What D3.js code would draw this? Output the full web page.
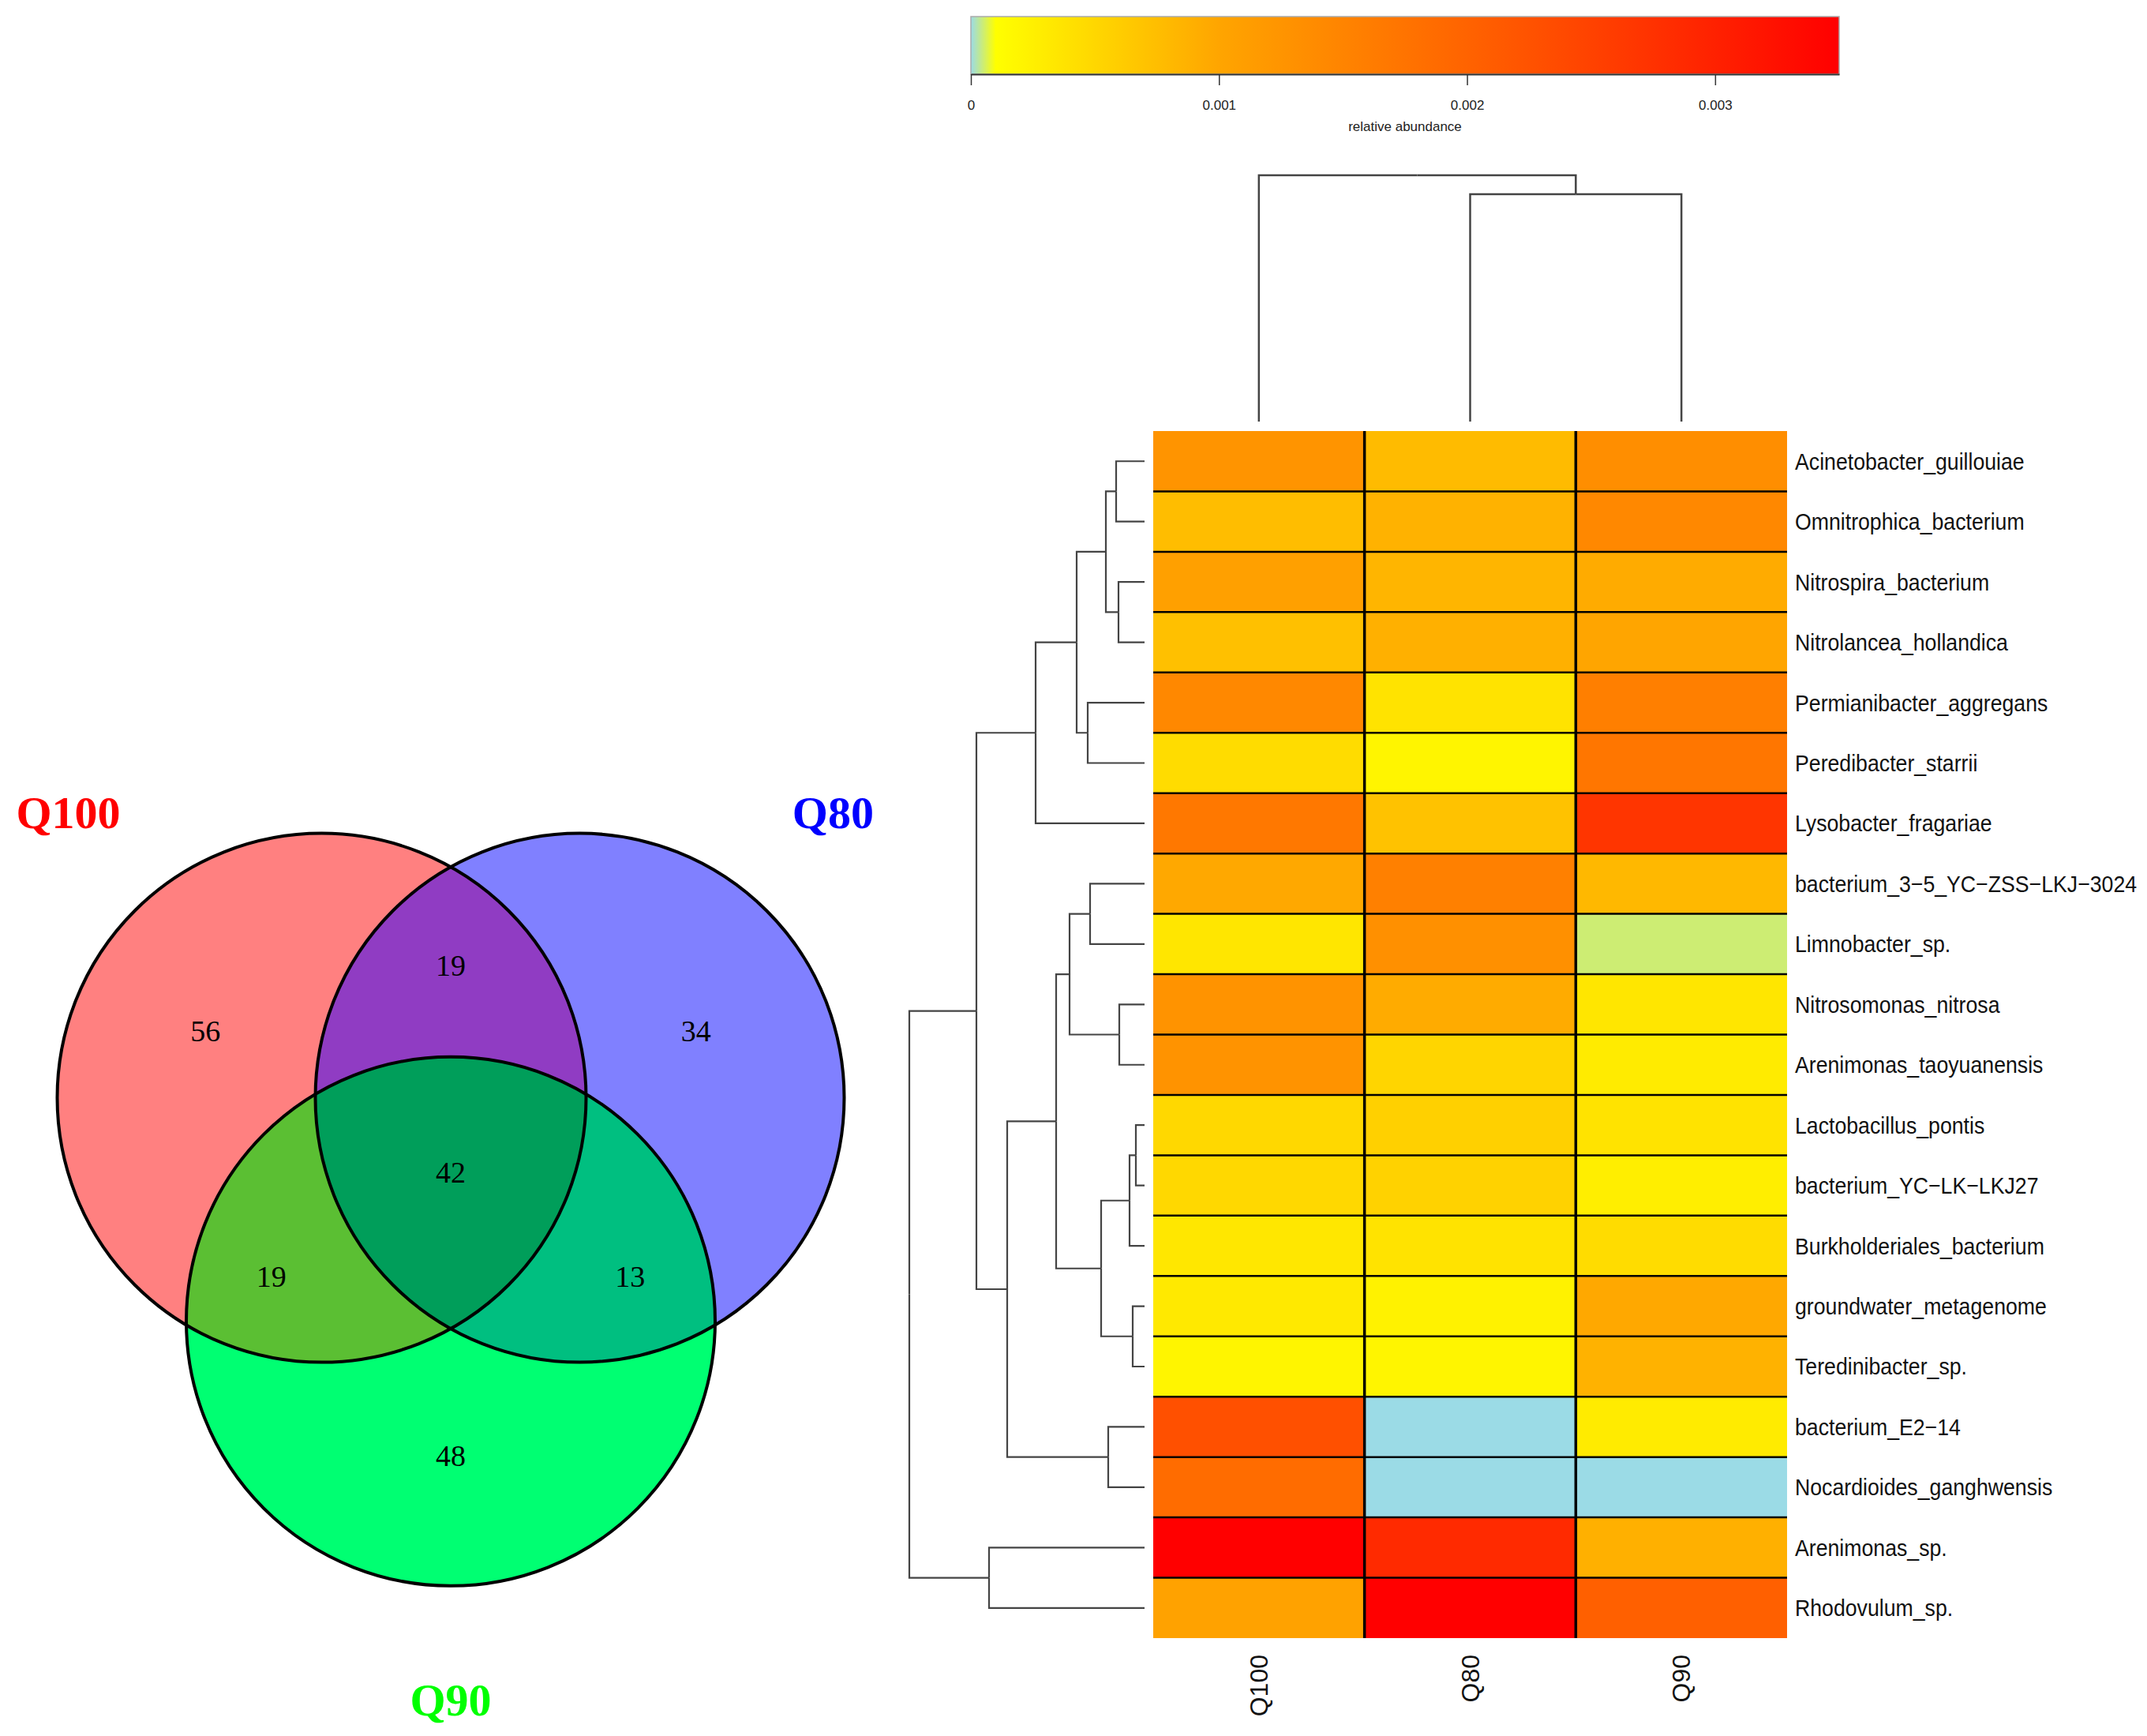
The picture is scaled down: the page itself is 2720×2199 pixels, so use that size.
<!DOCTYPE html>
<html>
<head>
<meta charset="utf-8">
<script src="https://cdn.jsdelivr.net/npm/d3@7"></script>
<style>
  body { margin: 0; background: #fff; }
</style>
</head>
<body>
<div id="chart"></div>
<script>
// ---- heatmap data ----
const samples = ["Q100", "Q80", "Q90"];
const taxa = [
  "Acinetobacter_guillouiae", "Omnitrophica_bacterium", "Nitrospira_bacterium",
  "Nitrolancea_hollandica", "Permianibacter_aggregans", "Peredibacter_starrii",
  "Lysobacter_fragariae", "bacterium_3-5_YC-ZSS-LKJ-3024", "Limnobacter_sp.",
  "Nitrosomonas_nitrosa", "Arenimonas_taoyuanensis", "Lactobacillus_pontis",
  "bacterium_YC-LK-LKJ27", "Burkholderiales_bacterium", "groundwater_metagenome",
  "Teredinibacter_sp.", "bacterium_E2-14", "Nocardioides_ganghwensis",
  "Arenimonas_sp.", "Rhodovulum_sp."
];
const q100 = [0.00126, 0.00076, 0.00108, 0.00073, 0.00144, 0.00045, 0.00168, 0.00097, 0.00035, 0.00127,
              0.00127, 0.00049, 0.00049, 0.00034, 0.00032, 0.00020, 0.00229, 0.00186, 0.00350, 0.00105];
const q80  = [0.00078, 0.00087, 0.00084, 0.00089, 0.00038, 0.00020, 0.00071, 0.00156, 0.00132, 0.00094,
              0.00052, 0.00057, 0.00055, 0.00038, 0.00023, 0.00020, 0, 0, 0.00286, 0.00350];
const q90  = [0.00135, 0.00144, 0.00094, 0.00100, 0.00158, 0.00171, 0.00270, 0.00081, 0.00005, 0.00035,
              0.00030, 0.00038, 0.00027, 0.00045, 0.00097, 0.00087, 0.00030, 0, 0.00089, 0.00205];
const colorTicks = [0, 0.001, 0.002, 0.003];
const colorStops = [0, 0.0001, 0.001, 0.0035];
const colorRange = ["#9bdbe6", "#ffff00", "#ffa500", "#ff0000"];

// dendrograms: [height, left, right]
const rowTree = [2.98,
  [2.13,
    [1.38,
      [0.86,
        [0.49, [0.36, "Acinetobacter_guillouiae", "Omnitrophica_bacterium"],
               [0.33, "Nitrospira_bacterium", "Nitrolancea_hollandica"]],
        [0.72, "Permianibacter_aggregans", "Peredibacter_starrii"]],
      "Lysobacter_fragariae"],
    [1.74,
      [1.12,
        [0.95, [0.69, "bacterium_3-5_YC-ZSS-LKJ-3024", "Limnobacter_sp."],
               [0.32, "Nitrosomonas_nitrosa", "Arenimonas_taoyuanensis"]],
        [0.55, [0.19, [0.11, "Lactobacillus_pontis", "bacterium_YC-LK-LKJ27"], "Burkholderiales_bacterium"],
               [0.15, "groundwater_metagenome", "Teredinibacter_sp."]]],
      [0.46, "bacterium_E2-14", "Nocardioides_ganghwensis"]]],
  [1.97, "Arenimonas_sp.", "Rhodovulum_sp."]];
const colTree = [3.12, "Q100", [2.88, "Q80", "Q90"]];

// ---- venn data ----
const vennSets = ["Q100", "Q80", "Q90"];
const vennRegions = [["Q100"], ["Q80"], ["Q90"], ["Q100", "Q80"], ["Q100", "Q90"], ["Q80", "Q90"], ["Q100", "Q80", "Q90"]];
const vennCounts = [56, 34, 48, 19, 19, 13, 42];

const width = 2720, height = 2199;
const svg = d3.select("#chart").append("svg")
  .attr("width", width).attr("height", height)
  .style("background", "#fff");

// ---------------- heatmap ----------------
const values = [q100, q80, q90];
const cells = [];
samples.forEach((s, j) => taxa.forEach((t, i) => cells.push({ sample: s, taxon: t, value: values[j][i] })));

const x = d3.scaleBand().domain(samples).range([1461, 2264]);
const y = d3.scaleBand().domain(taxa).range([546, 2075]);
const color = d3.scaleLinear().domain(colorStops).range(colorRange).clamp(true);

svg.append("g").selectAll("rect").data(cells).join("rect")
  .attr("x", d => x(d.sample))
  .attr("y", d => y(d.taxon))
  .attr("width", x.bandwidth())
  .attr("height", y.bandwidth())
  .attr("fill", d => color(d.value))
  .attr("shape-rendering", "crispEdges");

// grid lines
const grid = svg.append("g").attr("stroke", "#000");
grid.selectAll("line.h").data(taxa.slice(1)).join("line")
  .attr("x1", x.range()[0]).attr("x2", x.range()[1])
  .attr("y1", d => y(d)).attr("y2", d => y(d))
  .attr("stroke-width", 2.5);
grid.selectAll("line.v").data(samples.slice(1)).join("line")
  .attr("y1", y.range()[0]).attr("y2", y.range()[1])
  .attr("x1", d => x(d)).attr("x2", d => x(d))
  .attr("stroke-width", 3.5);

const minus = s => s.replace(/-/g, "\u2212");

// row labels
svg.append("g").selectAll("text").data(taxa).join("text")
  .attr("transform", d => `translate(2274,${y(d) + y.bandwidth() / 2}) scale(0.89,1)`)
  .attr("dy", "0.35em")
  .style("font-family", "'Liberation Sans', Arial, sans-serif")
  .style("font-size", "30px")
  .attr("fill", "#111")
  .text(d => minus(d));

// column labels
svg.append("g").selectAll("text").data(samples).join("text")
  .attr("transform", d => `translate(${x(d) + x.bandwidth() / 2},2096) rotate(-90)`)
  .attr("dy", "0.35em")
  .attr("text-anchor", "end")
  .style("font-family", "'Liberation Sans', Arial, sans-serif")
  .style("font-size", "32px")
  .attr("fill", "#111")
  .text(d => d);

// ---------------- dendrograms ----------------
function toNode(n) {
  return typeof n === "string" ? { name: n, h: 0 }
    : { h: n[0], children: [toNode(n[1]), toNode(n[2])] };
}
function layoutTree(tree, leafPos) {
  const root = d3.hierarchy(toNode(tree));
  root.eachAfter(d => {
    d.pos = d.children ? (d.children[0].pos + d.children[1].pos) / 2 : leafPos(d.data.name);
  });
  return root.descendants().filter(d => d.children)
    .flatMap(d => d.children.map(c => ({ p: d, c })));
}

const rowH = d3.scaleLinear().domain([0, rowTree[0]]).range([1450, 1152]);
const rowLinks = layoutTree(rowTree, n => y(n) + y.bandwidth() / 2);
svg.append("g").attr("fill", "none").attr("stroke", "#444").attr("stroke-width", 2.2)
  .selectAll("path").data(rowLinks).join("path")
  .attr("d", l => `M${rowH(l.p.data.h)},${l.p.pos}V${l.c.pos}H${rowH(l.c.data.h)}`);

const colH = d3.scaleLinear().domain([0, colTree[0]]).range([534, 222]);
const colLinks = layoutTree(colTree, n => x(n) + x.bandwidth() / 2);
svg.append("g").attr("fill", "none").attr("stroke", "#444").attr("stroke-width", 2.5)
  .selectAll("path").data(colLinks).join("path")
  .attr("d", l => `M${l.p.pos},${colH(l.p.data.h)}H${l.c.pos}V${colH(l.c.data.h)}`);

// ---------------- colour key ----------------
const key = d3.scaleLinear().domain([0, colorStops[colorStops.length - 1]]).range([1230, 2330]);
const grad = svg.append("defs").append("linearGradient").attr("id", "keygrad")
  .attr("x1", "0%").attr("x2", "100%");
grad.selectAll("stop").data(colorStops).join("stop")
  .attr("offset", d => d / key.domain()[1])
  .attr("stop-color", d => color(d));
svg.append("rect")
  .attr("x", key.range()[0]).attr("y", 21)
  .attr("width", key.range()[1] - key.range()[0]).attr("height", 73)
  .attr("fill", "url(#keygrad)")
  .attr("stroke", "#aaa").attr("stroke-width", 1.5);

const keyAxis = svg.append("g").attr("transform", "translate(0,94)")
  .call(d3.axisBottom(key).tickValues(colorTicks).tickFormat(d3.format("")).tickSize(14).tickPadding(19).tickSizeOuter(0));
keyAxis.select(".domain").attr("stroke", "#333").attr("stroke-width", 2);
keyAxis.selectAll(".tick line").attr("stroke", "#333").attr("stroke-width", 1.5);
keyAxis.selectAll("text")
  .style("font-family", "'Liberation Sans', Arial, sans-serif")
  .style("font-size", "17px").attr("fill", "#222");

svg.append("text")
  .attr("x", d3.mean(key.range())).attr("y", 166)
  .attr("text-anchor", "middle")
  .style("font-family", "'Liberation Sans', Arial, sans-serif")
  .style("font-size", "17px").attr("fill", "#222")
  .text("relative abundance");

// ---------------- venn ----------------
const venn = { cx: 571, cy: 1485, r: 335, sep: 327 };
const vennAngles = [210, 330, 90];
const setColors = ["#ff0000", "#0000ff", "#00ff00"];
const setFills = ["#ff8080", "#8080ff", "#00ff72"];
const labelOffsets = [[-0.958, -1.02], [0.958, -1.02], [0, 1.49]];
const dist = venn.sep / Math.sqrt(3);
const centers = vennSets.map((s, i) => ({
  set: s,
  x: venn.cx + dist * Math.cos(vennAngles[i] * Math.PI / 180),
  y: venn.cy + dist * Math.sin(vennAngles[i] * Math.PI / 180)
}));
const cOf = s => centers[vennSets.indexOf(s)];

const defs = svg.select("defs");
centers.forEach((c, i) => {
  defs.append("clipPath").attr("id", "clip" + i)
    .append("circle").attr("cx", c.x).attr("cy", c.y).attr("r", venn.r);
});

const vg = svg.append("g");
vg.selectAll("circle.fill").data(centers).join("circle")
  .attr("cx", d => d.x).attr("cy", d => d.y).attr("r", venn.r)
  .attr("fill", (d, i) => setFills[i]);

function overlay(parent, clips, c, fill) {
  let g = parent;
  clips.forEach(k => { g = g.append("g").attr("clip-path", `url(#clip${k})`); });
  g.append("circle").attr("cx", c.x).attr("cy", c.y).attr("r", venn.r).attr("fill", fill);
}
overlay(vg, [0], centers[1], "#903cc3");
overlay(vg, [0], centers[2], "#5bbf33");
overlay(vg, [1], centers[2], "#00bf80");
overlay(vg, [0, 1], centers[2], "#009e5a");

vg.selectAll("circle.outline").data(centers).join("circle")
  .attr("class", "outline")
  .attr("cx", d => d.x).attr("cy", d => d.y).attr("r", venn.r)
  .attr("fill", "none").attr("stroke", "#000").attr("stroke-width", 4);

// region counts
function regionPos(sets) {
  const pts = sets.map(cOf);
  const m = { x: d3.mean(pts, p => p.x), y: d3.mean(pts, p => p.y) };
  const k = sets.length === 1 ? 0.9 : sets.length === 2 ? 1.78 : 0;
  return { x: m.x + k * (m.x - venn.cx), y: m.y + k * (m.y - venn.cy) };
}
vg.selectAll("text.count").data(vennRegions).join("text")
  .attr("x", d => regionPos(d).x)
  .attr("y", d => regionPos(d).y)
  .attr("dy", "0.35em")
  .attr("text-anchor", "middle")
  .style("font-family", "'Liberation Serif', 'Times New Roman', serif")
  .style("font-size", "38px")
  .attr("fill", "#000")
  .text((d, i) => vennCounts[i]);

// set names
vg.selectAll("text.set").data(centers).join("text")
  .attr("x", (d, i) => d.x + labelOffsets[i][0] * venn.r)
  .attr("y", (d, i) => d.y + labelOffsets[i][1] * venn.r)
  .attr("text-anchor", "middle")
  .style("font-family", "'Liberation Serif', 'Times New Roman', serif")
  .style("font-size", "58px")
  .style("font-weight", "bold")
  .attr("fill", (d, i) => setColors[i])
  .text(d => d.set);
</script>
